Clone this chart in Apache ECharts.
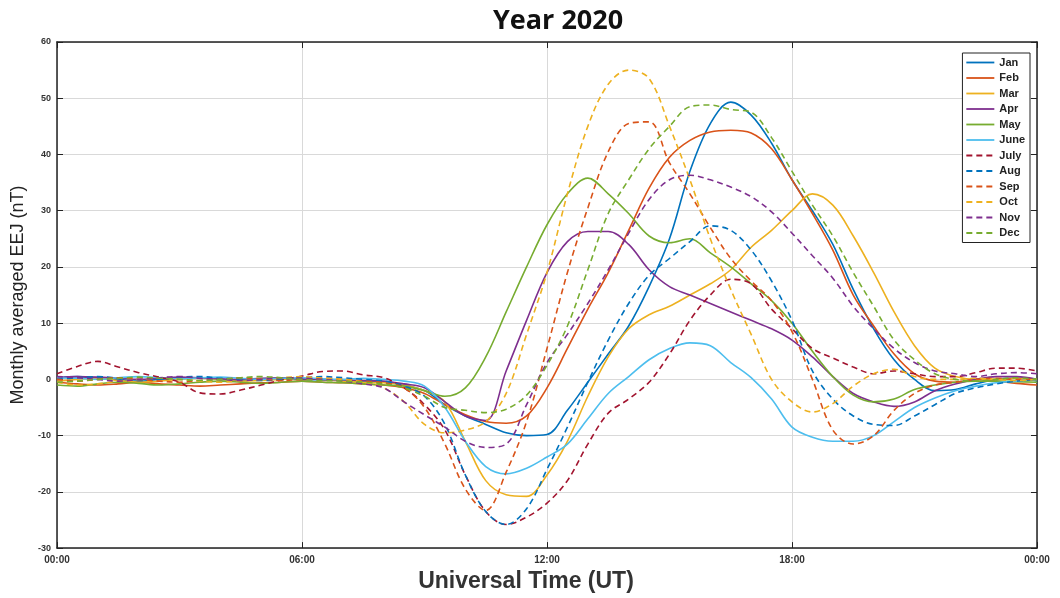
<!DOCTYPE html>
<html>
<head>
<meta charset="utf-8">
<script src="https://cdn.jsdelivr.net/npm/echarts@6/dist/echarts.min.js"></script>
<style>
html,body{margin:0;padding:0;background:#fff;}
#chart{width:1060px;height:598px;}
</style>
</head>
<body>
<div id="chart"></div>
<script>
// Universal time (hours), 30-minute steps
const hours = [0,0.5,1,1.5,2,2.5,3,3.5,4,4.5,5,5.5,6,6.5,7,7.5,8,8.5,9,9.5,10,10.5,11,11.5,12,12.5,13,13.5,14,14.5,15,15.5,16,16.5,17,17.5,18,18.5,19,19.5,20,20.5,21,21.5,22,22.5,23,23.5,24];
const xTickLabels = ['00:00','06:00','12:00','18:00','00:00'];
const monthNames = ['Jan','Feb','Mar','Apr','May','June','July','Aug','Sep','Oct','Nov','Dec'];

const jan = [0.3,0.5,0.2,0,-0.3,0,0.2,0.3,0,-0.2,0.1,0.2,0,-0.1,-0.2,-0.3,-0.5,-1,-2,-4.5,-6.5,-8,-9.5,-10,-9.8,-5.5,-0.5,4.5,9.5,16.5,25,37,45.5,49.3,47,42,35.5,30,24,16,9,3.5,0,-2,-1.8,-0.8,0,0.2,-0.3];
const feb = [-0.5,-0.8,-1,-0.8,-0.5,-0.8,-1,-1.2,-1,-0.8,-0.6,-0.5,-0.3,-0.5,-0.6,-0.8,-1,-1.5,-2.5,-4.5,-6.3,-7.5,-7.8,-6.5,-1.5,5.5,12.5,19,26.5,34,39.5,42.5,44,44.3,43.8,41,35.5,29.5,23,15,9.5,4.5,1,-0.3,-0.5,0,-0.3,-0.7,-1];
const mar = [-0.3,0,0.2,-0.2,-0.5,-0.3,0,0.2,0,-0.3,-0.2,0,0.2,0,-0.3,-0.5,-0.6,-1,-2,-4,-11,-18,-20.5,-20.8,-17,-11,-3,4,9,11.5,13,15,17,19.5,23.5,26.5,30,33,31,25.5,19,12,6,2,0.5,0,0,0.2,0];
const apr = [0.3,0.5,0.4,0.2,0,0.2,0.4,0.3,0.1,0,0.2,0.3,0.1,0,-0.1,-0.2,-0.3,-0.8,-1.5,-4,-6.5,-7.3,1.5,10.5,19,24.5,26.3,26.3,24,19.5,16.5,15,13.5,12,10.5,9,7,4,0.5,-2.5,-4,-4.8,-4,-2,-0.8,0,0.5,0.5,0];
const may = [-1,-1.2,-0.8,-0.5,-0.7,-1,-0.8,-0.5,-0.3,-0.5,-0.7,-0.5,-0.3,-0.5,-0.6,-0.8,-1,-1.2,-2,-3,-1.5,4,12,20,27.5,33,35.8,33,29.5,25.5,24.3,25,22.5,20,17,14,10,5,0.5,-2.8,-4,-3.5,-1.8,-1,-0.5,-0.3,-0.3,-0.4,-0.5];
const jun = [0.3,0.2,0,0.3,0.5,0.3,0.1,0.3,0.4,0.2,0,0.2,0.3,0.1,0,0.2,0,-0.3,-1.2,-5,-11,-15.5,-16.8,-15.8,-13.8,-11.5,-7,-2.5,0.5,3.5,5.5,6.5,6,3,0.3,-3.5,-8.5,-10.3,-11,-11,-10,-7.5,-5,-3.3,-2,-1.2,-0.6,-0.3,0];
const jul = [1,2.3,3.2,2.2,1.2,0.4,-0.5,-2.4,-2.6,-1.9,-1,-0.1,0.6,1.4,1.5,0.8,0.3,-1.5,-4.5,-9,-17,-23.5,-25.8,-24.5,-22,-18,-11.5,-6,-3.5,-0.5,4.5,10.5,15,17.8,17,12.5,9,5.5,3.8,2.2,1,1.5,1,0.5,0.5,1.2,2,2,1.5];
const aug = [0,0.3,0.5,0.2,-0.2,0,0.4,0.5,0.2,0,-0.2,0,0.3,0.5,0.3,0,-0.3,-1.2,-3,-8,-17,-23.5,-25.8,-23,-16,-8.5,-0.5,7,13.5,18.5,21.5,24.5,27.3,26.5,23,17.5,10.5,1.5,-3.5,-6.5,-8,-8.2,-6.5,-4.5,-2.5,-1.5,-0.8,-0.3,0];
const sep = [0,-0.3,0,0.3,0,-0.3,-0.5,-0.2,0,0.3,0.1,-0.2,0,0.2,0,-0.3,-0.6,-1.5,-5,-11.5,-19.5,-23.3,-16.5,-7.5,5.5,19,30.5,40.5,45.5,45.8,38.5,33,27,21.5,17.5,14,8.5,0,-9,-11.5,-10,-5.5,-2.5,-1,-0.5,0,0.2,0,0];
const oct = [-0.5,-1,-0.8,-0.3,0,0.3,0,-0.3,-0.5,-0.2,0,0.3,0.5,0.2,0,-0.5,-1.5,-4,-8,-9.5,-9,-7.5,-2.5,8,19,33,45,52.5,55,53.5,45,35.5,25,16,8,0,-4,-5.8,-4.3,-1.2,1,1.8,0.5,0,0,0.2,0,-0.2,0];
const nov = [0.5,0.3,0,-0.3,0,0.3,0.5,0.2,0,-0.2,0,0.3,0.2,0,-0.3,-0.8,-1.5,-4,-6.3,-8.5,-11,-12.1,-11.5,-4.5,3,8,13.5,19.5,26,32,35.5,36.3,35.5,34.2,32.5,29.8,26,22,18,13,9,5.5,3,1.5,1,0.5,1,1.2,1];
const dec = [-0.5,-0.3,0,0.2,0.4,0.2,0,-0.2,0,0.3,0.5,0.3,0,-0.2,-0.3,-0.5,-0.8,-1.5,-3,-5,-5.5,-5.9,-5.3,-2.8,2.5,9.5,19.5,29.5,35.5,41,45,48.5,48.8,48,47.5,43,37,31,25.5,19,13,7,3.5,1,0,-0.3,0,0.3,0];

const monthValues = [jan,feb,mar,apr,may,jun,jul,aug,sep,oct,nov,dec];
const colors = ['#0072BD','#D95319','#EDB120','#7E2F8E','#77AC30','#4DBEEE','#A2142F','#0072BD','#D95319','#EDB120','#7E2F8E','#77AC30'];

const series = monthNames.map((name, i) => ({
  name: name,
  type: 'line',
  data: hours.map((h, k) => [h, monthValues[i][k]]),
  showSymbol: false,
  symbol: 'none',
  smooth: 0.35,
  xAxisIndex: 0, yAxisIndex: 0,
  lineStyle: { color: colors[i], width: 1.6, type: i < 6 ? 'solid' : [6, 4] },
  itemStyle: { color: colors[i] },
  z: 2
}));

const chart = echarts.init(document.getElementById('chart'));
const lab = { fontFamily: 'Liberation Sans, Arial, sans-serif', fontWeight: 'bold', fontSize: 9, color: '#333' };
const frameLine = { show: true, onZero: false, lineStyle: { color: '#222', width: 1.5 } };
const innerTick = { show: true, inside: true, length: 6, lineStyle: { color: '#222' } };
chart.setOption({
  animation: false,
  backgroundColor: '#fff',
  title: {
    text: 'Year 2020', left: 488, top: 3,
    textStyle: { fontFamily: 'Open Sans, sans-serif', fontWeight: 'bold', fontSize: 27, color: '#111' }
  },
  grid: { left: 57, right: 23, top: 42, bottom: 49 },
  legend: {
    data: monthNames,
    orient: 'vertical', right: 30, top: 53,
    backgroundColor: '#fff', borderColor: '#222', borderWidth: 1,
    padding: [3, 5, 3, 3],
    itemWidth: 28, itemHeight: 10, itemGap: 2.5,
    itemStyle: { opacity: 0, borderWidth: 0 },
    lineStyle: { width: 1.8 },
    textStyle: { fontFamily: 'Liberation Sans, Arial, sans-serif', fontWeight: 'bold', fontSize: 11, color: '#222', lineHeight: 13 }
  },
  xAxis: [{
    type: 'value', min: 0, max: 24, interval: 6,
    name: 'Universal Time (UT)', nameLocation: 'middle', nameGap: 21,
    nameTextStyle: { fontFamily: 'Liberation Sans, Arial, sans-serif', fontWeight: 'bold', fontSize: 23, color: '#333', padding: [0, 42, 0, 0] },
    axisLine: frameLine,
    axisTick: innerTick,
    axisLabel: { margin: 7, fontSize: 10, fontFamily: lab.fontFamily, fontWeight: 'bold', color: '#333', formatter: v => xTickLabels[Math.round(v / 6)] },
    splitLine: { show: true, lineStyle: { color: '#d9d9d9', width: 1 } }
  }, {
    type: 'value', min: 0, max: 24, interval: 6, position: 'top',
    axisLine: frameLine, axisTick: innerTick,
    axisLabel: { show: false }, splitLine: { show: false }
  }],
  yAxis: [{
    type: 'value', min: -30, max: 60, interval: 10,
    name: 'Monthly averaged EEJ (nT)', nameLocation: 'middle', nameGap: 25,
    nameTextStyle: { fontFamily: 'Liberation Sans, Arial, sans-serif', fontSize: 18, color: '#222' },
    axisLine: frameLine, axisTick: innerTick,
    axisLabel: Object.assign({ margin: 6 }, lab),
    splitLine: { show: true, lineStyle: { color: '#d9d9d9', width: 1 } }
  }, {
    type: 'value', min: -30, max: 60, interval: 10, position: 'right',
    axisLine: frameLine, axisTick: innerTick,
    axisLabel: { show: false }, splitLine: { show: false }
  }],
  series: series
});
</script>
</body>
</html>
